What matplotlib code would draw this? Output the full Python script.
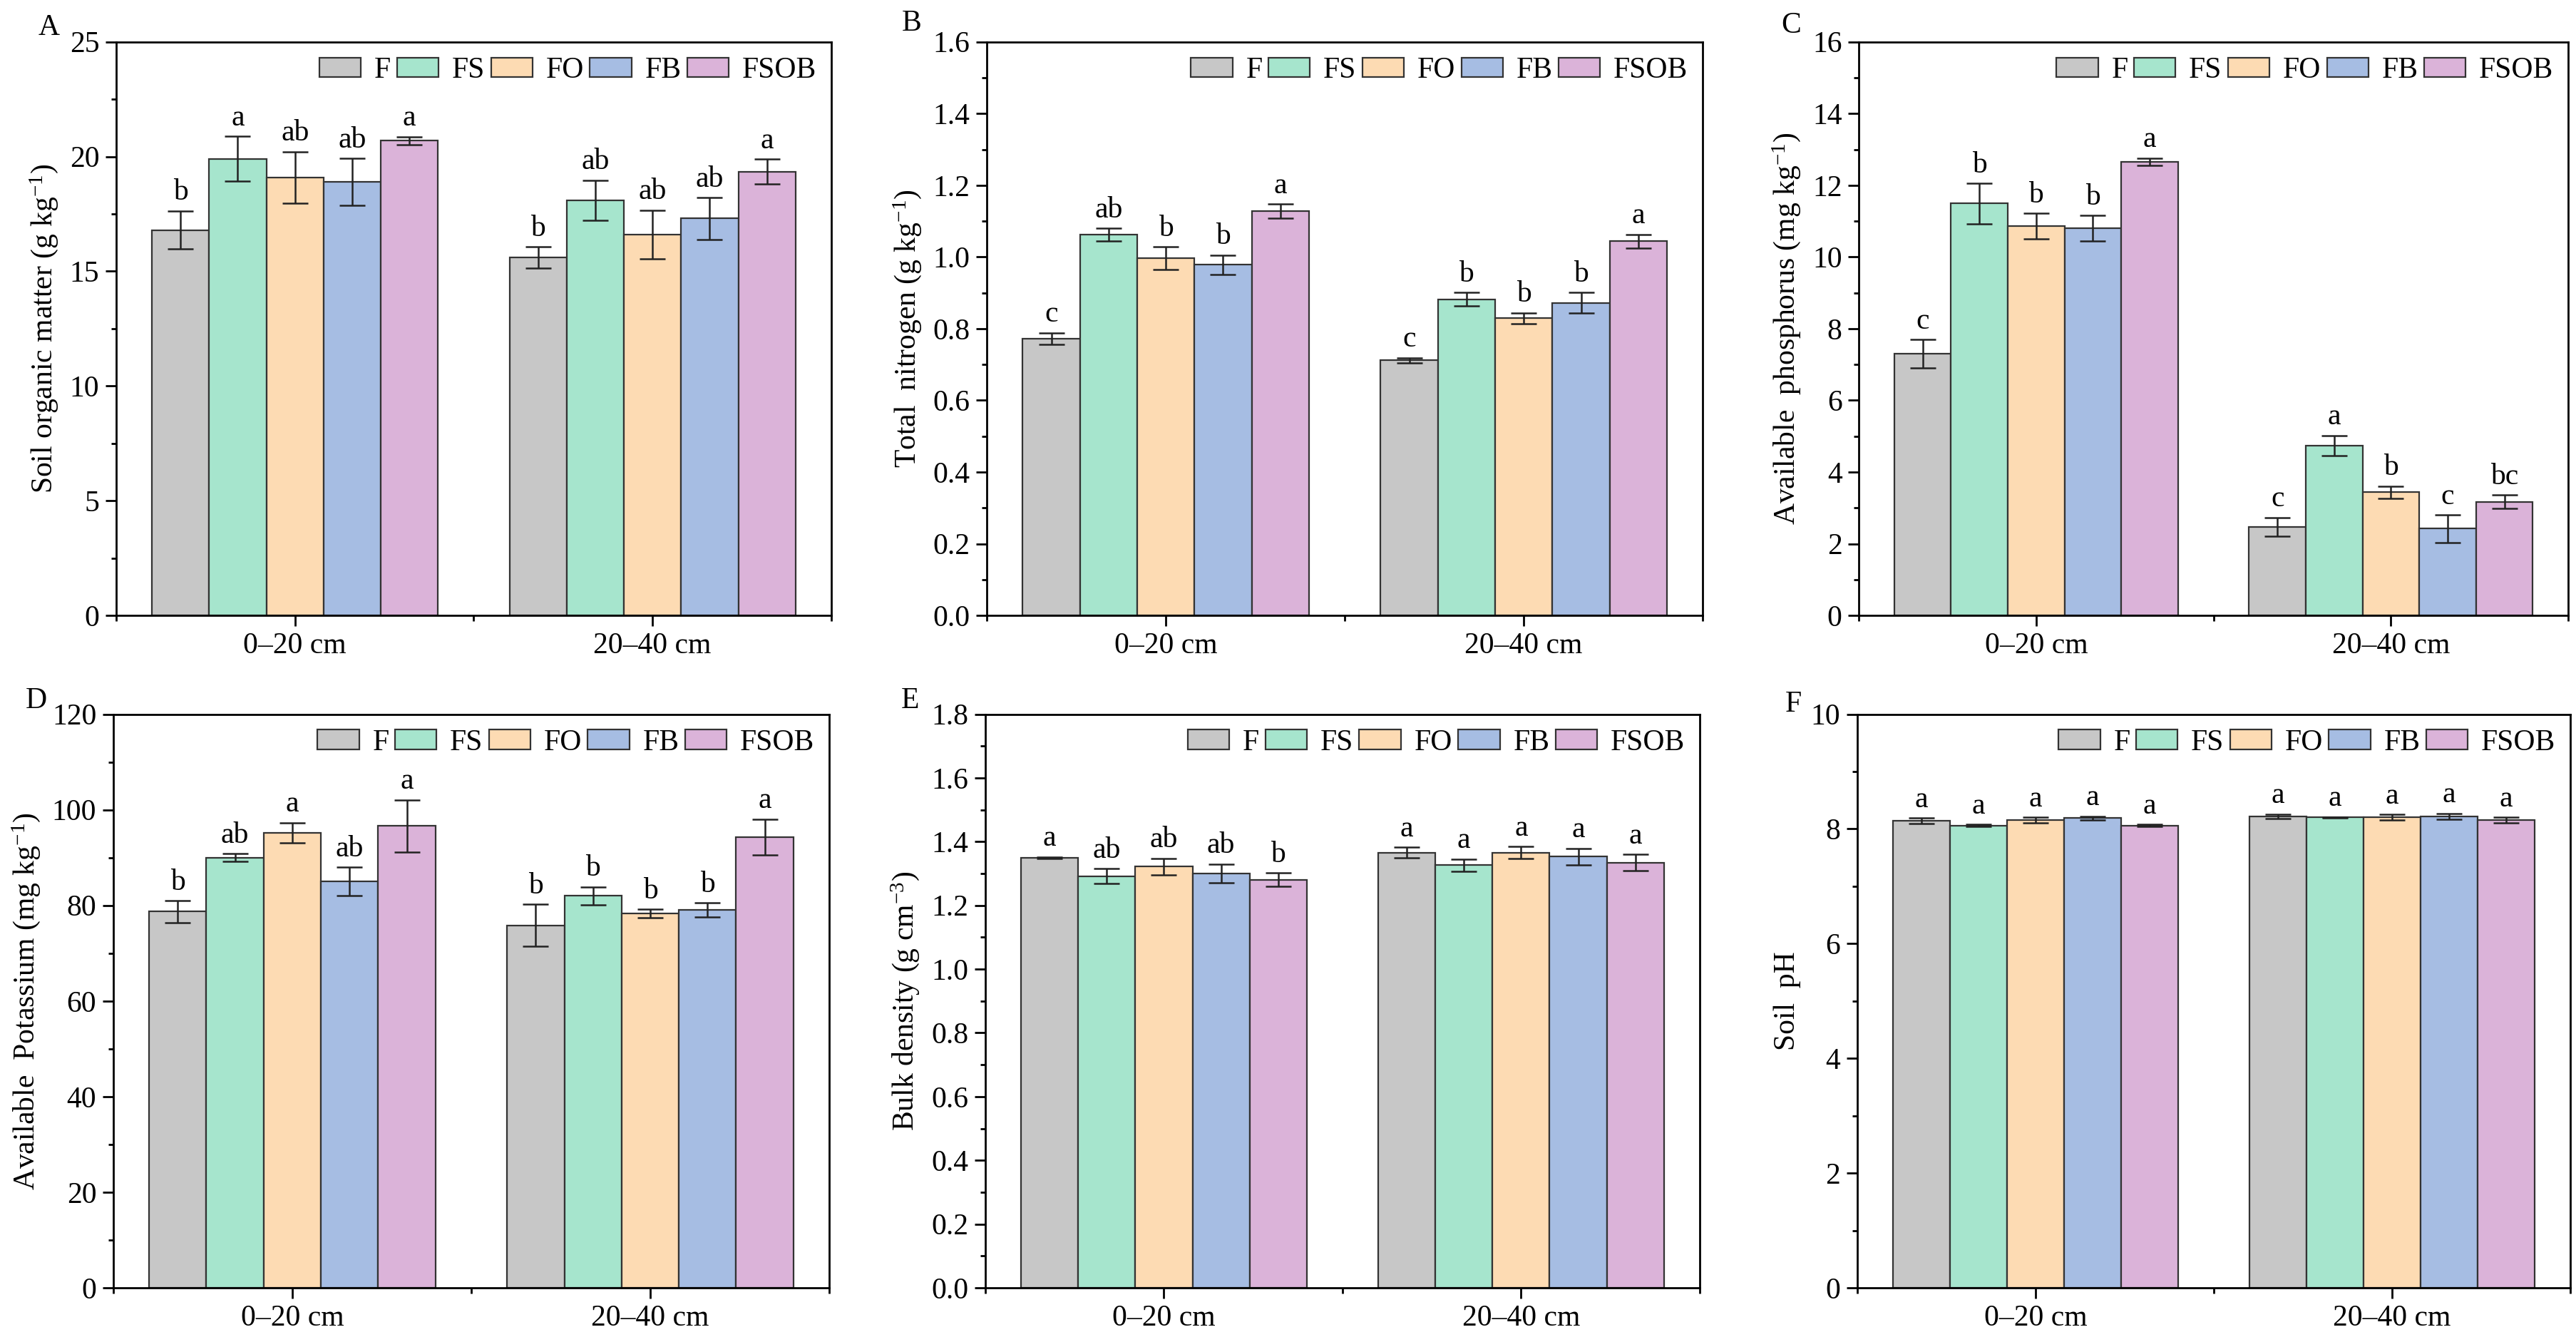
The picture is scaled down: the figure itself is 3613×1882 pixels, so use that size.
import numpy as np
import matplotlib
matplotlib.use("Agg")
import matplotlib.pyplot as plt
from matplotlib.ticker import MultipleLocator, AutoMinorLocator
from matplotlib.patches import Patch

plt.rcParams['font.family'] = ['Liberation Serif', 'DejaVu Serif']
plt.rcParams['mathtext.fontset'] = 'custom'
plt.rcParams['mathtext.rm'] = 'Liberation Serif'
plt.rcParams['mathtext.it'] = 'Liberation Serif:italic'

# categorias e tratamentos
depths = ['0–20 cm', '20–40 cm']
treatments = ['F', 'FS', 'FO', 'FB', 'FSOB']
colors = ['#c7c7c7', '#a6e5cd', '#fddbb3', '#a6bde3', '#dbb3d9']

# A - materia organica (g/kg): linhas = profundidade, colunas = tratamento
som_mean = [[16.8, 19.9, 19.1, 18.9, 20.7], [15.6, 18.1, 16.6, 17.3, 19.35]]
som_err = [[0.83, 0.98, 1.12, 1.02, 0.17], [0.47, 0.87, 1.06, 0.91, 0.53]]
som_let = [['b', 'a', 'ab', 'ab', 'a'], ['b', 'ab', 'ab', 'ab', 'a']]

# B - nitrogenio total
tn_mean = [[0.772, 1.062, 0.996, 0.978, 1.128], [0.712, 0.882, 0.829, 0.872, 1.044]]
tn_err = [[0.016, 0.018, 0.032, 0.027, 0.020], [0.007, 0.019, 0.015, 0.029, 0.019]]
tn_let = [['c', 'ab', 'b', 'b', 'a'], ['c', 'b', 'b', 'b', 'a']]

# C - fosforo disponivel
ap_mean = [[7.30, 11.49, 10.86, 10.80, 12.66], [2.47, 4.74, 3.44, 2.42, 3.17]]
ap_err = [[0.40, 0.56, 0.36, 0.36, 0.10], [0.26, 0.28, 0.17, 0.38, 0.19]]
ap_let = [['c', 'b', 'b', 'b', 'a'], ['c', 'a', 'b', 'c', 'bc']]

# D - potassio disponivel
ak_mean = [[78.7, 90.0, 95.2, 85.0, 96.6], [75.8, 82.0, 78.3, 79.0, 94.3]]
ak_err = [[2.3, 0.8, 2.1, 3.0, 5.5], [4.4, 1.85, 0.85, 1.5, 3.75]]
ak_let = [['b', 'ab', 'a', 'ab', 'a'], ['b', 'b', 'b', 'b', 'a']]

# E - densidade
bd_mean = [[1.349, 1.292, 1.322, 1.301, 1.281], [1.366, 1.326, 1.366, 1.353, 1.334]]
bd_err = [[0.003, 0.023, 0.026, 0.029, 0.021], [0.016, 0.019, 0.018, 0.026, 0.026]]
bd_let = [['a', 'ab', 'ab', 'ab', 'b'], ['a', 'a', 'a', 'a', 'a']]

# F - pH
ph_mean = [[8.14, 8.06, 8.15, 8.19, 8.06], [8.22, 8.20, 8.20, 8.22, 8.15]]
ph_err = [[0.05, 0.02, 0.05, 0.03, 0.02], [0.04, 0.01, 0.05, 0.05, 0.05]]
ph_let = [['a', 'a', 'a', 'a', 'a'], ['a', 'a', 'a', 'a', 'a']]

# (letra, dados, rotulo, ymax, passo, posicao do eixo, posicao da letra)
paineis = [
    ('A', som_mean, som_err, som_let, 'Soil organic matter (g kg$^{-1}$)', 25, 5,
     [0.0451, 0.5414, 0.2776], (-0.079, 1.012)),
    ('B', tn_mean, tn_err, tn_let, 'Total  nitrogen (g kg$^{-1}$)', 1.6, 0.2,
     [0.3831, 0.5414, 0.2779], (-0.091, 1.02)),
    ('C', ap_mean, ap_err, ap_let, 'Available  phosphorus (mg kg$^{-1}$)', 16, 2,
     [0.7216, 0.5414, 0.2754], (-0.082, 1.016)),
    ('D', ak_mean, ak_err, ak_let, 'Available  Potassium (mg kg$^{-1}$)', 120, 20,
     [0.0440, 0.0404, 0.2779], (-0.093, 1.011)),
    ('E', bd_mean, bd_err, bd_let, 'Bulk density (g cm$^{-3}$)', 1.8, 0.2,
     [0.3825, 0.0404, 0.2773], (-0.093, 1.011)),
    ('F', ph_mean, ph_err, ph_let, 'Soil  pH', 10, 2,
     [0.7210, 0.0404, 0.2768], (-0.078, 1.004)),
]

fs = 30
largura = 0.16
fig = plt.figure(figsize=(36.13, 18.82), dpi=100)

for letra, medias, erros, letras, ylabel, ymax, passo, posax, posletra in paineis:
    ax = fig.add_axes([posax[0], posax[1], posax[2], 0.4274])
    x = np.arange(1, len(depths) + 1)
    for j, trat in enumerate(treatments):
        pos = x + (j - 2) * largura
        m = [medias[i][j] for i in range(len(depths))]
        e = [erros[i][j] for i in range(len(depths))]
        ax.bar(pos, m, width=largura, color=colors[j], edgecolor='#333333',
               linewidth=1.6, yerr=e, capsize=13,
               error_kw=dict(elinewidth=1.8, capthick=1.8, ecolor='#222222'))
        for i in range(len(depths)):
            ax.text(pos[i], m[i] + e[i] + ymax * 0.008, letras[i][j],
                    ha='center', va='bottom', fontsize=fs)
    ax.set_xlim(0.5, 2.5)
    ax.set_ylim(0, ymax)
    ax.set_xticks(x)
    ax.set_xticklabels(depths, fontsize=fs)
    ax.xaxis.set_minor_locator(MultipleLocator(0.5))
    ax.yaxis.set_major_locator(MultipleLocator(passo))
    ax.yaxis.set_minor_locator(AutoMinorLocator(2))
    if passo < 1:
        ax.yaxis.set_major_formatter(plt.FormatStrFormatter('%.1f'))
    ax.tick_params(axis='both', which='major', direction='out', length=11, width=2,
                   labelsize=fs, pad=6)
    ax.tick_params(axis='y', which='minor', direction='out', length=5, width=2)
    ax.tick_params(axis='x', which='minor', direction='out', length=6, width=2)
    for s in ax.spines.values():
        s.set_linewidth(2)
    ax.set_ylabel(ylabel, fontsize=fs, labelpad=10)
    ax.text(posletra[0], posletra[1], letra, transform=ax.transAxes, ha='right',
            va='baseline', fontsize=fs)
    handles = [Patch(facecolor=c, edgecolor='#333333', linewidth=1.6) for c in colors]
    ax.legend(handles, treatments, loc='upper right', ncol=5, frameon=False,
              fontsize=fs, handlelength=1.4, handleheight=0.65,
              handletextpad=0.45, columnspacing=0.2, borderaxespad=0.1)

fig.savefig('out.png', dpi=100)
